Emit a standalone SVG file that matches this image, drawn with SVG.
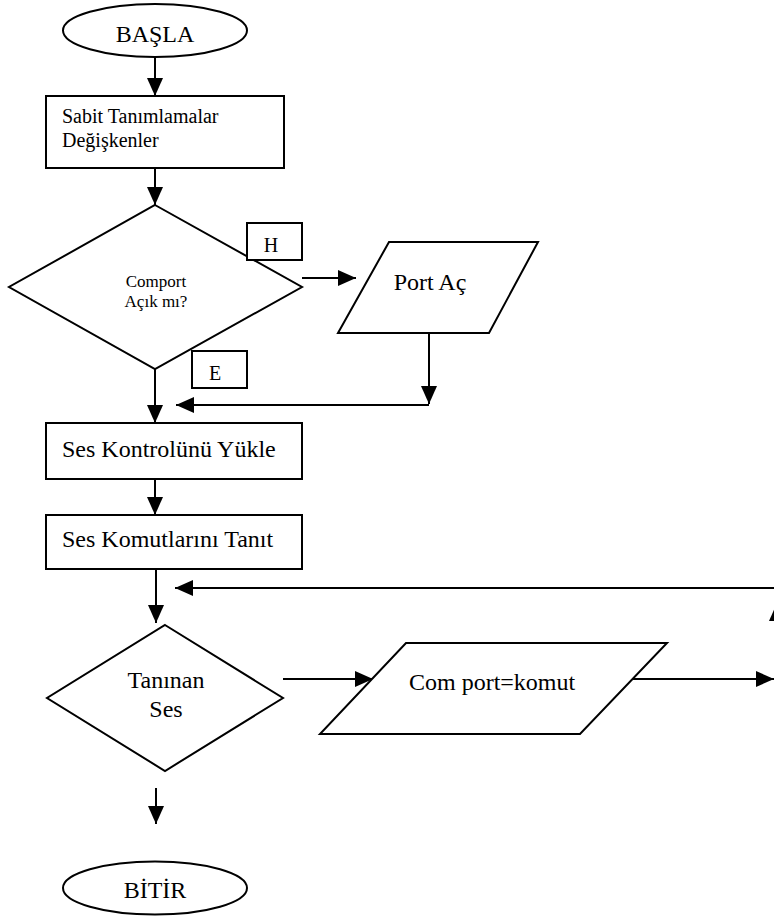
<svg xmlns="http://www.w3.org/2000/svg" width="774" height="916" viewBox="0 0 774 916">
<style>
.s{fill:#fff;stroke:#000;stroke-width:2}
.c{fill:none;stroke:#000;stroke-width:2}
.a{marker-end:url(#ah)}
text{font-family:"Liberation Serif","Times New Roman",serif;fill:#000}
.m{text-anchor:middle}
</style>
<defs>
<marker id="ah" markerUnits="userSpaceOnUse" markerWidth="18" markerHeight="16" refX="18" refY="8" orient="auto">
<path d="M0,0 L18,8 L0,16 z" fill="#000"/>
</marker>
</defs>
<rect width="774" height="916" fill="#fff"/>
<g id="connectors">
<path class="c a" d="M155,57 V96"/>
<path class="c a" d="M155,168 V205"/>
<path class="c a" d="M302,278 H356"/>
<path class="c a" d="M429,333 V404"/>
<path class="c a" d="M429,405 H176"/>
<path class="c a" d="M155,369 V423"/>
<path class="c a" d="M155,479 V515"/>
<path class="c a" d="M156,569 V623"/>
<path class="c a" d="M283,679 H373"/>
<path class="c a" d="M629,679 H774"/>
<path class="c a" d="M777,679 V603"/>
<path class="c a" d="M776,588 H175"/>
<path class="c a" d="M156,788 V824"/>
</g>
<g id="basla">
<ellipse class="s" cx="155" cy="30.5" rx="92" ry="26.5"/>
<text class="m" x="155" y="42" font-size="24">BAŞLA</text>
</g>
<g id="sabit">
<rect class="s" x="46" y="96" width="238" height="72"/>
<text x="62" y="123" font-size="20">Sabit Tanımlamalar</text>
<text x="62" y="147" font-size="20">Değişkenler</text>
</g>
<g id="comport">
<path class="s" d="M155,205 L302,287 L155,369 L9,287 z"/>
<text class="m" x="156" y="287" font-size="17">Comport</text>
<text class="m" x="156" y="307" font-size="17">Açık mı?</text>
</g>
<g id="label-h">
<rect class="s" x="247" y="223" width="55" height="37"/>
<text class="m" x="271" y="252" font-size="20">H</text>
</g>
<g id="label-e">
<rect class="s" x="192" y="351" width="55" height="37"/>
<text class="m" x="215" y="380" font-size="20">E</text>
</g>
<g id="portac">
<path class="s" d="M389,242 L538,242 L489,333 L338,333 z"/>
<text class="m" x="430" y="290" font-size="24">Port Aç</text>
</g>
<g id="seskontrol">
<rect class="s" x="46" y="423" width="256" height="56"/>
<text x="62" y="457" font-size="24">Ses Kontrolünü Yükle</text>
</g>
<g id="seskomut">
<rect class="s" x="46" y="515" width="256" height="54"/>
<text x="62" y="547" font-size="24">Ses Komutlarını Tanıt</text>
</g>
<g id="taninan">
<path class="s" d="M165,625 L283,698 L165,771 L47,698 z"/>
<text class="m" x="166" y="688" font-size="24">Tanınan</text>
<text class="m" x="166" y="717" font-size="24">Ses</text>
</g>
<g id="comport-komut">
<path class="s" d="M406,643 L667,643 L580,734 L320,734 z"/>
<text x="409" y="690" font-size="24">Com port=komut</text>
</g>
<g id="bitir">
<ellipse class="s" cx="155" cy="888" rx="92" ry="26.5"/>
<text class="m" x="155" y="898" font-size="24">BİTİR</text>
</g>
</svg>
